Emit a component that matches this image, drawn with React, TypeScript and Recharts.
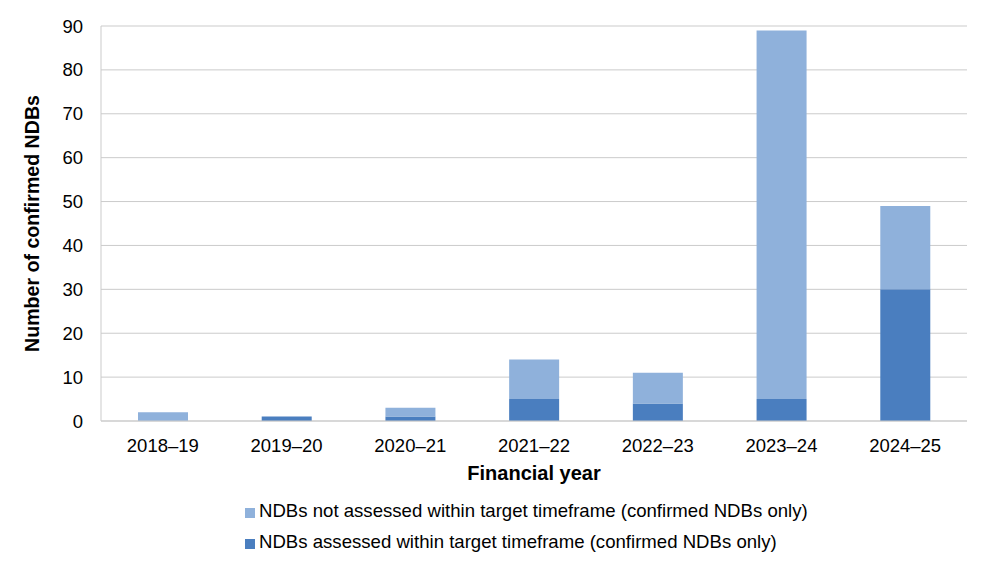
import React from "react";
import { BarChart, Bar, XAxis, YAxis, CartesianGrid } from "recharts";

const years = ["2018–19", "2019–20", "2020–21", "2021–22", "2022–23", "2023–24", "2024–25"];
const assessed = [0, 1, 1, 5, 4, 5, 30];
const notAssessed = [2, 0, 2, 9, 7, 84, 19];
const yTicks = [0, 10, 20, 30, 40, 50, 60, 70, 80, 90];

const LIGHT = "#8fb1db";
const DARK = "#4a7ebf";
const FONT = "'Liberation Sans', Arial, sans-serif";

const data = years.map((y, i) => ({ year: y, assessed: assessed[i], notAssessed: notAssessed[i] }));

const legendItems = [
  { label: "NDBs not assessed within target timeframe (confirmed NDBs only)", color: LIGHT },
  { label: "NDBs assessed within target timeframe (confirmed NDBs only)", color: DARK },
];

const XTitle = (props: any) => {
  const vb = props.viewBox || {};
  return (
    <text
      x={vb.x + vb.width / 2}
      y={vb.y + 59}
      textAnchor="middle"
      style={{ fontFamily: FONT, fontSize: 20, fontWeight: "bold", fill: "#000" }}
    >
      Financial year
    </text>
  );
};

const YTitle = (props: any) => {
  const vb = props.viewBox || {};
  const cx = 39;
  const cy = vb.y + vb.height / 2;
  return (
    <text
      x={cx}
      y={cy}
      transform={`rotate(-90, ${cx}, ${cy})`}
      textAnchor="middle"
      style={{ fontFamily: FONT, fontSize: 19.6, fontWeight: "bold", fill: "#000" }}
    >
      Number of confirmed NDBs
    </text>
  );
};

export default function App() {
  return (
    <div style={{ position: "absolute", left: 0, top: 0, width: 990, height: 573, background: "#fff" }}>
      <BarChart
        width={990}
        height={573}
        data={data}
        margin={{ top: 26, right: 23, left: 0, bottom: 112 }}
      >
        <CartesianGrid vertical={false} stroke="#cbcbcb" strokeWidth={1} />
        <XAxis
          dataKey="year"
          height={40}
          tickLine={false}
          axisLine={{ stroke: "#cbcbcb" }}
          tickMargin={12}
          tick={{ fontFamily: FONT, fontSize: 18.5, fill: "#000" }}
          label={<XTitle />}
        />
        <YAxis
          width={101}
          domain={[0, 90]}
          ticks={yTicks}
          interval={0}
          tickLine={false}
          axisLine={{ stroke: "#cbcbcb" }}
          tickMargin={12}
          tick={{ fontFamily: FONT, fontSize: 18.5, fill: "#000" }}
          label={<YTitle />}
        />
        <Bar dataKey="assessed" stackId="a" fill={DARK} barSize={50} isAnimationActive={false} />
        <Bar dataKey="notAssessed" stackId="a" fill={LIGHT} barSize={50} isAnimationActive={false} />
      </BarChart>
      {legendItems.map((it, i) => (
        <div
          key={it.label}
          style={{
            position: "absolute",
            left: 245,
            top: 500 + i * 31,
            height: 21,
            display: "flex",
            alignItems: "flex-start",
            fontFamily: FONT,
            fontSize: 18.6,
            lineHeight: "21px",
            color: "#000",
            whiteSpace: "nowrap",
          }}
        >
          <span style={{ display: "inline-block", width: 10, height: 10, background: it.color, marginTop: 8, marginRight: 4 }} />
          <span>{it.label}</span>
        </div>
      ))}
    </div>
  );
}
